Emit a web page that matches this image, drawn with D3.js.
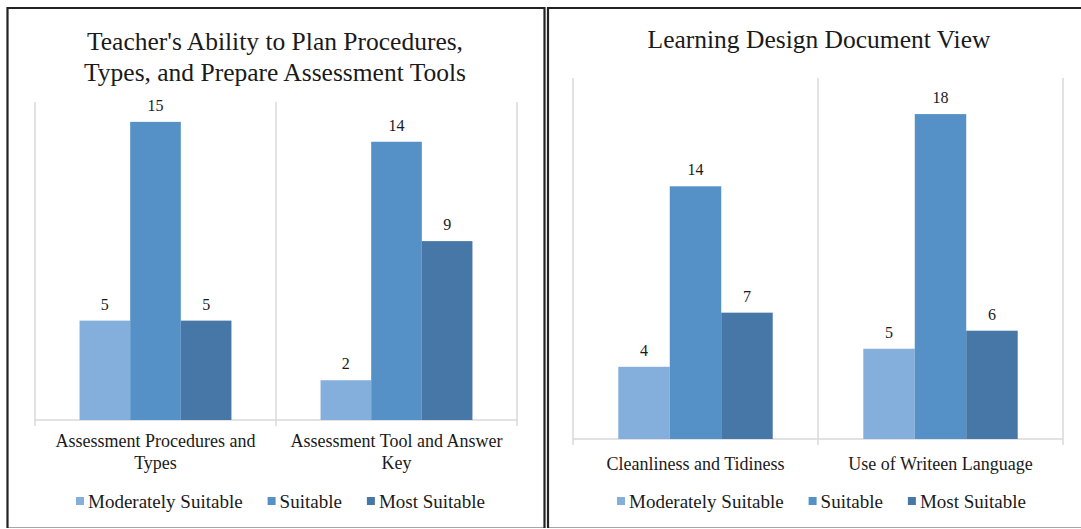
<!DOCTYPE html>
<html>
<head>
<meta charset="utf-8">
<script src="https://cdn.jsdelivr.net/npm/d3@7"></script>
<style>
  body { margin: 0; background: #fff; }
  svg { display: block; font-family: "Liberation Serif", "Times New Roman", serif; }
</style>
</head>
<body>
<div id="chart"></div>
<script>
// series
const seriesNames = ["Moderately Suitable", "Suitable", "Most Suitable"];
const seriesColors = ["#84aedb", "#5590c7", "#4677a7"];

// left chart
const leftTitle = ["Teacher's Ability to Plan Procedures,", "Types, and Prepare Assessment Tools"];
const leftCategories = ["Assessment Procedures and Types", "Assessment Tool and Answer Key"];
const leftModerate = [5, 2];
const leftSuitable = [15, 14];
const leftMost = [5, 9];
const leftMax = 16;

// right chart
const rightTitle = ["Learning Design Document View"];
const rightCategories = ["Cleanliness and Tidiness", "Use of Writeen Language"];
const rightModerate = [4, 5];
const rightSuitable = [14, 18];
const rightMost = [7, 6];
const rightMax = 20;

const W = 1081, H = 529;

const svg = d3.select("#chart").append("svg")
  .attr("width", W).attr("height", H);

function panel(opt) {
  const g = svg.append("g");

  // frame
  g.append("line").attr("x1", opt.frame[0]).attr("x2", opt.frame[1])
    .attr("y1", 527.5).attr("y2", 527.5).attr("stroke", "#a6a6a6").attr("stroke-width", 1);
  g.append("path")
    .attr("d", `M${opt.frame[0]},528 V8 H${opt.frame[1]} V528`)
    .attr("fill", "none").attr("stroke", "#222").attr("stroke-width", 2.2);

  const x0 = d3.scaleBand().domain(opt.categories).range([opt.left, opt.right]);
  const x1 = d3.scaleBand().domain(seriesNames).range([0, x0.bandwidth()])
    .paddingInner(0).paddingOuter(0.88);
  const y = d3.scaleLinear().domain([0, opt.max]).range([opt.base, opt.top]);

  // vertical gridlines at category edges
  const edges = opt.categories.map(c => x0(c)).concat([opt.right]);
  g.selectAll(".grid").data(edges).join("line")
    .attr("x1", d => d).attr("x2", d => d)
    .attr("y1", opt.top).attr("y2", opt.base + 6)
    .attr("stroke", "#d9d9d9").attr("stroke-width", 1.5);
  g.append("line").attr("x1", opt.left).attr("x2", opt.right)
    .attr("y1", opt.base).attr("y2", opt.base)
    .attr("stroke", "#d9d9d9").attr("stroke-width", 1.5);

  const rows = [];
  opt.categories.forEach((c, i) => {
    opt.series.forEach((s, j) => rows.push({ cat: c, name: seriesNames[j], v: s[i], j }));
  });

  g.selectAll(".bar").data(rows).join("rect")
    .attr("x", d => x0(d.cat) + x1(d.name))
    .attr("width", x1.bandwidth())
    .attr("y", d => y(d.v))
    .attr("height", d => y(0) - y(d.v))
    .attr("fill", d => seriesColors[d.j]);

  g.selectAll(".val").data(rows).join("text")
    .attr("x", d => x0(d.cat) + x1(d.name) + x1.bandwidth() / 2)
    .attr("y", d => y(d.v) - 11)
    .attr("text-anchor", "middle")
    .attr("font-size", 16)
    .attr("fill", "#1a1a1a")
    .text(d => d.v);

  // category labels, wrapped to the band
  opt.categories.forEach(c => {
    const t = g.append("text")
      .attr("x", x0(c) + x0.bandwidth() / 2)
      .attr("y", opt.base + opt.labelOffset)
      .attr("text-anchor", "middle")
      .attr("font-size", 18)
      .attr("fill", "#1a1a1a");
    const words = c.split(" ");
    let line = [], tspan = t.append("tspan").attr("x", x0(c) + x0.bandwidth() / 2);
    words.forEach(w => {
      line.push(w);
      tspan.text(line.join(" "));
      if (tspan.node().getComputedTextLength() > x0.bandwidth() - 12 && line.length > 1) {
        line.pop();
        tspan.text(line.join(" "));
        line = [w];
        tspan = t.append("tspan").attr("x", x0(c) + x0.bandwidth() / 2)
          .attr("dy", 22).text(w);
      }
    });
  });

  // title
  opt.title.forEach((s, i) => {
    g.append("text")
      .attr("x", opt.titleX)
      .attr("y", opt.titleY + i * 31)
      .attr("text-anchor", "middle")
      .attr("font-size", 25.5)
      .attr("fill", "#1a1a1a")
      .text(s);
  });

  // legend
  const lg = g.append("g").attr("transform", `translate(${opt.legendX},502)`);
  let cx = 0;
  seriesNames.forEach((s, i) => {
    lg.append("rect").attr("x", cx).attr("y", -5).attr("width", 8).attr("height", 8)
      .attr("fill", seriesColors[i]);
    const t = lg.append("text").attr("x", cx + 12).attr("y", 6)
      .attr("font-size", 19).attr("fill", "#1a1a1a").text(s);
    cx += 12 + t.node().getComputedTextLength() + 25;
  });
}

panel({
  frame: [7.5, 544.5],
  categories: leftCategories,
  series: [leftModerate, leftSuitable, leftMost],
  max: leftMax,
  left: 35, right: 517, top: 102, base: 420,
  labelOffset: 27,
  title: leftTitle, titleX: 275, titleY: 50,
  legendX: 76
});

panel({
  frame: [548, 1090],
  categories: rightCategories,
  series: [rightModerate, rightSuitable, rightMost],
  max: rightMax,
  left: 573, right: 1063, top: 78, base: 439,
  labelOffset: 31,
  title: rightTitle, titleX: 819, titleY: 48,
  legendX: 617
});
</script>
</body>
</html>
